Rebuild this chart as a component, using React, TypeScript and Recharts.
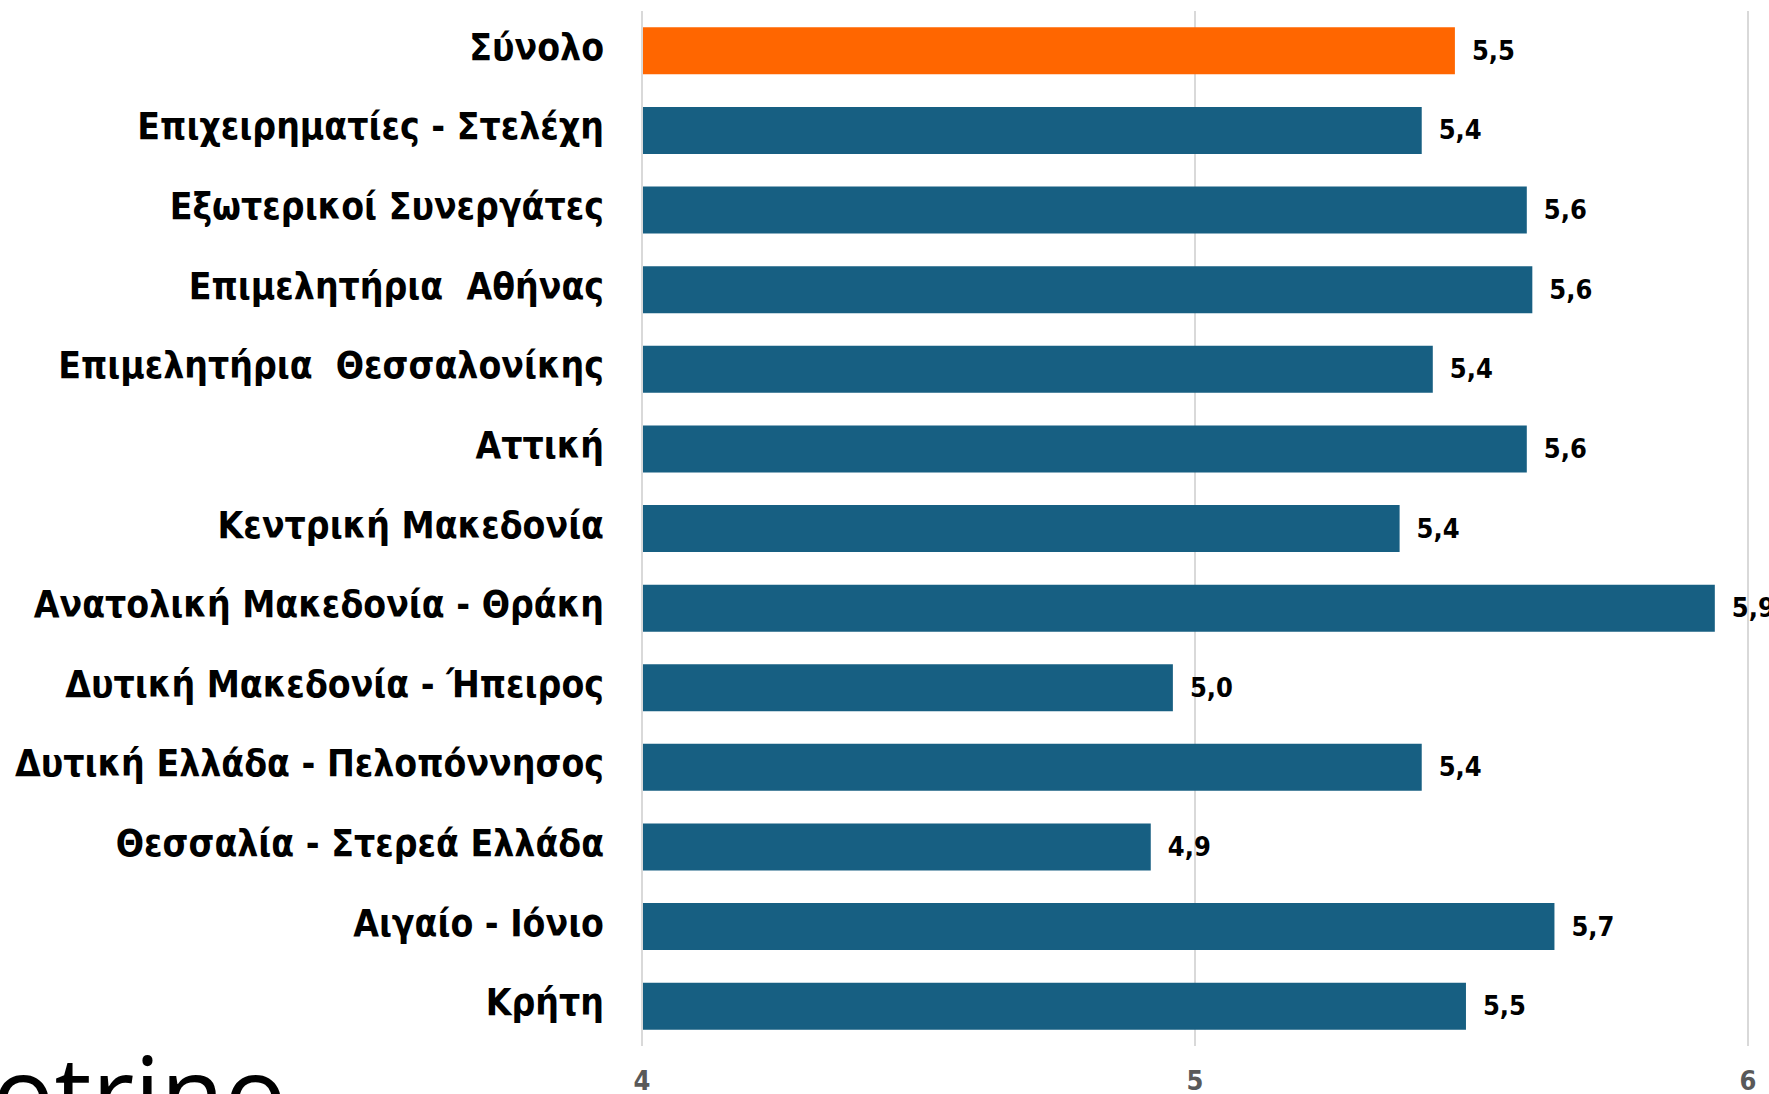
import { Bar, BarChart, Cell, LabelList, XAxis, YAxis, CartesianGrid } from "recharts";

const categories = [
  "Σύνολο",
  "Επιχειρηματίες - Στελέχη",
  "Εξωτερικοί Συνεργάτες",
  "Επιμελητήρια  Αθήνας",
  "Επιμελητήρια  Θεσσαλονίκης",
  "Αττική",
  "Κεντρική Μακεδονία",
  "Ανατολική Μακεδονία - Θράκη",
  "Δυτική Μακεδονία - Ήπειρος",
  "Δυτική Ελλάδα - Πελοπόννησος",
  "Θεσσαλία - Στερεά Ελλάδα",
  "Αιγαίο - Ιόνιο",
  "Κρήτη",
];

const values = [5.47, 5.41, 5.6, 5.61, 5.43, 5.6, 5.37, 5.94, 4.96, 5.41, 4.92, 5.65, 5.49];

const xTicks = [4, 5, 6];

const data = categories.map((name, i) => ({ name, value: values[i] }));

const ORANGE = "#FF6600";
const BLUE = "#175F82";
const FONT = "'Liberation Sans Narrow', 'DejaVu Sans Condensed', 'Open Sans', sans-serif";

const fmt = (v: number) => v.toFixed(1).replace(".", ",");

function CategoryTick(props: any) {
  const { x, y, payload } = props;
  return (
    <text
      x={x - 30}
      y={y}
      dy={9}
      textAnchor="end"
      fontFamily={FONT}
      fontWeight={700}
      fontSize={37}
      fill="#000"
      style={{ whiteSpace: "pre" }}
    >
      {payload.value}
    </text>
  );
}

function ValueTick(props: any) {
  const { x, payload } = props;
  return (
    <text x={x} y={1090} textAnchor="middle" fontFamily={FONT} fontWeight={700} fontSize={27} fill="#595959">
      {payload.value}
    </text>
  );
}

function ValueLabel(props: any) {
  const { x, y, width, height, value } = props;
  return (
    <text
      x={x + width + 17}
      y={y + height / 2}
      dy={9}
      fontFamily={FONT}
      fontWeight={700}
      fontSize={27}
      fill="#000"
    >
      {fmt(value)}
    </text>
  );
}

export default function App() {
  return (
    <div style={{ position: "absolute", left: 0, top: 0, width: 1769, height: 1094, overflow: "hidden", background: "#fff" }}>
      <BarChart
        width={1769}
        height={1094}
        layout="vertical"
        data={data}
        margin={{ top: 11, right: 21, bottom: 0, left: 0 }}
        barCategoryGap="20.5%"
      >
        <CartesianGrid horizontal={false} stroke="#D9D9D9" strokeWidth={2} verticalValues={xTicks} />
        <XAxis
          type="number"
          domain={[4, 6]}
          ticks={xTicks}
          allowDataOverflow
          axisLine={false}
          tickLine={false}
          height={48}
          tick={<ValueTick />}
        />
        <YAxis
          type="category"
          dataKey="name"
          width={642}
          axisLine={{ stroke: "#D9D9D9", strokeWidth: 2 }}
          tickLine={false}
          interval={0}
          tick={<CategoryTick />}
        />
        <Bar dataKey="value" isAnimationActive={false}>
          {data.map((d, i) => (
            <Cell key={d.name} fill={i === 0 ? ORANGE : BLUE} />
          ))}
          <LabelList dataKey="value" content={<ValueLabel />} />
        </Bar>
      </BarChart>
      <div
        style={{
          position: "absolute",
          left: -8,
          top: 1040,
          fontFamily: "'Open Sans', sans-serif",
          fontWeight: 400,
          fontSize: 104,
          lineHeight: "104px",
          color: "#000",
          whiteSpace: "nowrap",
        }}
      >
        otrino
      </div>
    </div>
  );
}
